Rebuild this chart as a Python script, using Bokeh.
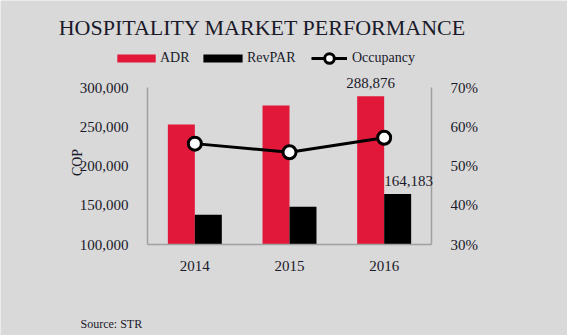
import math
from bokeh.plotting import figure
from bokeh.models import (Range1d, LinearAxis, FixedTicker, NumeralTickFormatter, PrintfTickFormatter,
                          ColumnDataSource, LabelSet, Label, Legend, LegendItem)
from bokeh.transform import dodge
from bokeh.embed import file_html
from bokeh.resources import INLINE

years = ["2014", "2015", "2016"]
adr = [253000, 277000, 288876]
revpar = [138000, 148000, 164183]
occupancy = [55.7, 53.5, 57.2]
left_ticks = [100000, 150000, 200000, 250000, 300000]
right_ticks = [30, 40, 50, 60, 70]
label_year = ["2016"]
label_adr = [288876]
label_revpar = [164183]

FONT = "Liberation Serif"
TXT = "#1a1a2a"
BG = "#d9d9d9"
AX = "#a0a0a0"
RED = "#e2183a"
W, H = 567, 335

# plot-area geometry in pixels (the frame is the whole canvas; axes sit at fixed locations)
PX_L, PX_R, PX_T, PX_B = 147, 431, 87, 244
n = len(years)
y_lo, y_hi = left_ticks[0], left_ticks[-1]
o_lo, o_hi = right_ticks[0], right_ticks[-1]
xs = (PX_R - PX_L) / n
ys = (y_hi - y_lo) / (PX_B - PX_T)
os_ = (o_hi - o_lo) / (PX_B - PX_T)

p = figure(width=W, height=H, output_backend="svg", toolbar_location=None,
           x_range=Range1d(-PX_L / xs, n + (W - PX_R) / xs),
           y_range=Range1d(y_lo - (H - PX_B) * ys, y_hi + PX_T * ys),
           x_axis_location=None, y_axis_location=None, min_border=0)
p.extra_y_ranges = {"occ": Range1d(o_lo - (H - PX_B) * os_, o_hi + PX_T * os_)}
p.background_fill_color = BG
p.border_fill_color = BG
p.outline_line_color = None
p.xgrid.visible = False
p.ygrid.visible = False

xpos = [i + 0.5 for i in range(n)]
src = ColumnDataSource(dict(x=xpos, year=years, adr=adr, revpar=revpar, occ=occupancy))
w = 0.285
r_adr = p.vbar(x=dodge("x", -w / 2), top="adr", bottom=y_lo, width=w,
               source=src, fill_color=RED, line_color=None)
r_rev = p.vbar(x=dodge("x", w / 2), top="revpar", bottom=y_lo, width=w,
               source=src, fill_color="black", line_color=None)
r_line = p.line(x="x", y="occ", source=src, y_range_name="occ", line_color="black", line_width=3)
r_pts = p.scatter(x="x", y="occ", source=src, y_range_name="occ", size=13,
                  fill_color="white", line_color="black", line_width=3)

def style_axis(ax):
    ax.axis_line_color = AX
    ax.axis_line_width = 1.5
    ax.major_tick_line_color = None
    ax.minor_tick_line_color = None
    ax.major_label_text_font = FONT
    ax.major_label_text_color = TXT
    ax.major_label_text_font_size = "15px"

xax = LinearAxis(ticker=FixedTicker(ticks=xpos), fixed_location=y_lo, bounds=(0, n),
                 major_label_overrides={x: y for x, y in zip(xpos, years)})
style_axis(xax)
xax.major_label_standoff = 10
p.add_layout(xax, "below")

lax = LinearAxis(ticker=FixedTicker(ticks=left_ticks), formatter=NumeralTickFormatter(format="0,0"),
                 fixed_location=0, bounds=(y_lo, y_hi))
style_axis(lax)
lax.major_label_standoff = 13
p.add_layout(lax, "left")

rax = LinearAxis(y_range_name="occ", ticker=FixedTicker(ticks=right_ticks),
                 formatter=PrintfTickFormatter(format="%d%%"), fixed_location=n, bounds=(o_lo, o_hi))
style_axis(rax)
rax.major_label_standoff = 13
p.add_layout(rax, "right")

# data labels
lsrc = ColumnDataSource(dict(x=[xpos[years.index(y)] for y in label_year], adr=label_adr, revpar=label_revpar,
                             adr_t=[f"{v:,}" for v in label_adr],
                             rev_t=[f"{v:,}" for v in label_revpar]))
p.add_layout(LabelSet(x=dodge("x", -w / 2), y="adr", text="adr_t", source=lsrc,
                      text_align="center", text_baseline="alphabetic", y_offset=8,
                      text_font=FONT, text_font_size="15px", text_color=TXT))
p.add_layout(LabelSet(x=dodge("x", w / 2), y="revpar", text="rev_t", source=lsrc,
                      text_align="center", text_baseline="alphabetic", y_offset=8, x_offset=11,
                      text_font=FONT, text_font_size="15px", text_color=TXT))

# texts (screen units, origin bottom-left of the canvas-sized frame)
def lab(text, x, y, size, align="center", angle=0):
    p.add_layout(Label(x=x, y=H - y, x_units="screen", y_units="screen", text=text, angle=angle,
                       text_align=align, text_baseline="middle", text_font=FONT,
                       text_font_size=size, text_color=TXT))

lab("HOSPITALITY MARKET PERFORMANCE", 262, 27, "22px")
lab("COP", 77, 162, "14px", angle=math.pi / 2)
lab("Source: STR", 80, 323, "12px", align="left")

# legends (one per item so each sits where the reference puts it)
def leg(label, renderers, x, y_center, gw, gh, standoff):
    row = max(16, gh)
    lg = Legend(items=[LegendItem(label=label, renderers=renderers)],
                location=(x, H - (y_center + row / 2)),
                orientation="horizontal", glyph_width=gw, glyph_height=gh, label_height=16,
                label_standoff=standoff, padding=0, margin=0, spacing=0,
                border_line_alpha=0, background_fill_alpha=0,
                label_text_font=FONT, label_text_font_size="14px", label_text_color=TXT)
    p.add_layout(lg, "center")

# bar swatches are drawn inset by 10% of the glyph box, so the boxes are widened accordingly
leg("ADR", [r_adr], 112, 58, 48, 10, 0)
leg("RevPAR", [r_rev], 198, 58, 49, 10, 0)
leg("Occupancy", [r_line, r_pts], 311, 58, 36, 24, 5)

open("out.html", "w").write(file_html(p, INLINE))
